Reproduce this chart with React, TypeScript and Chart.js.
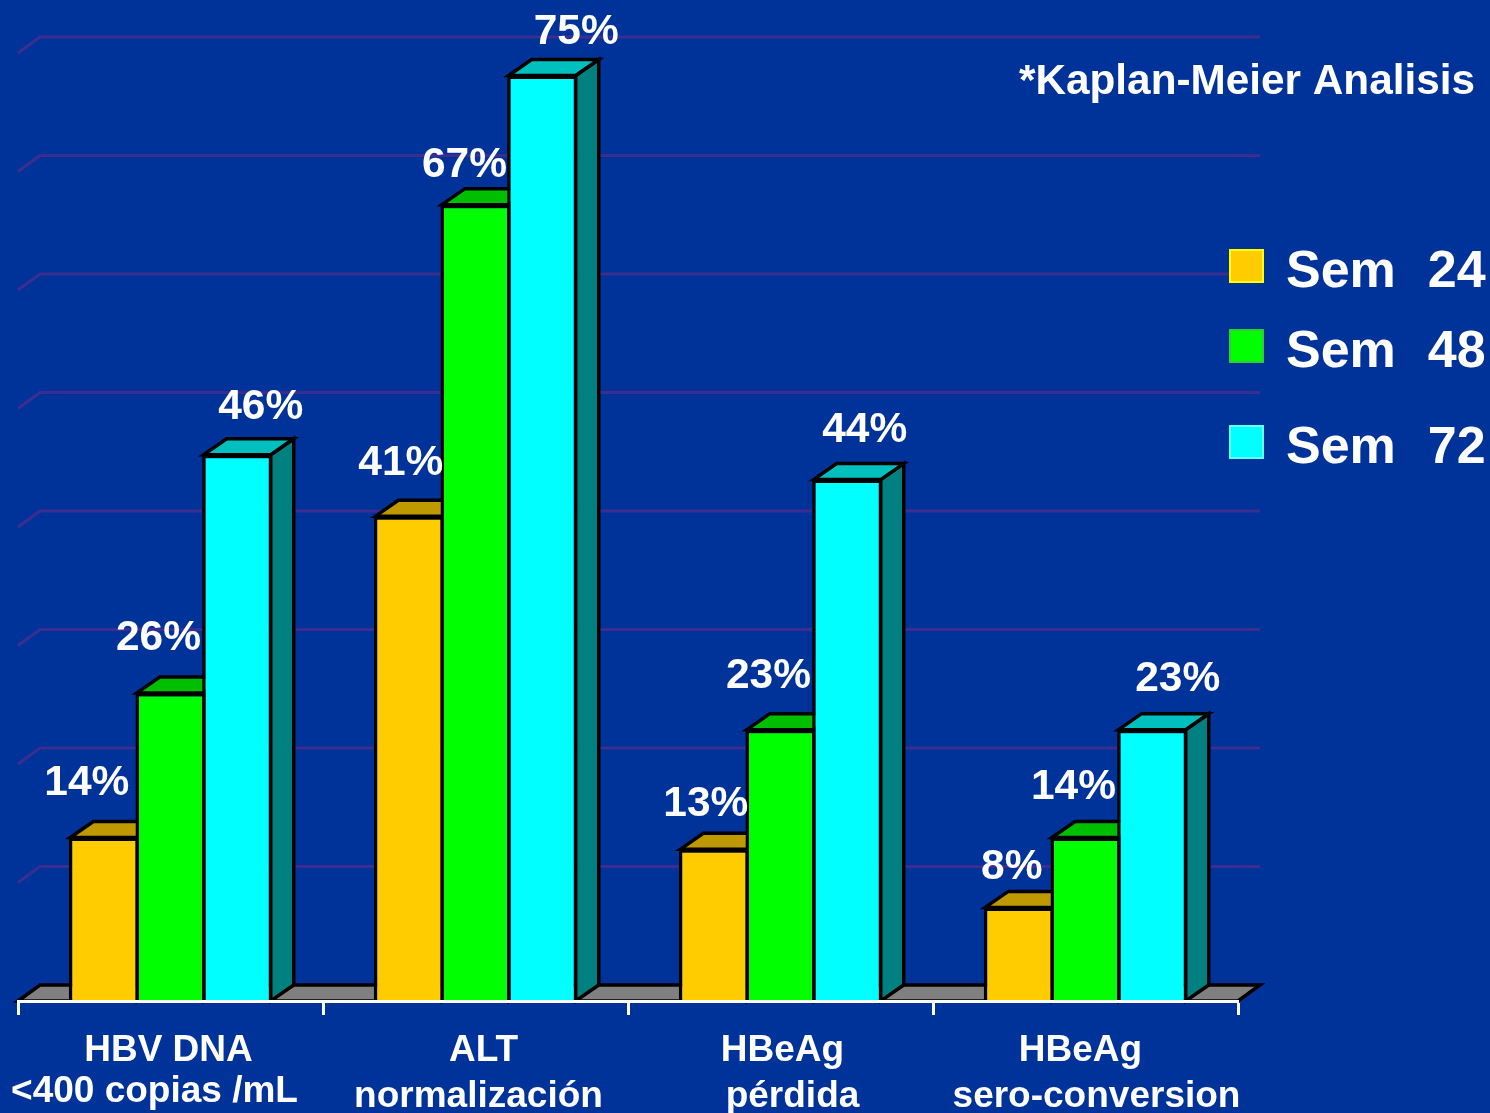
import React, { useEffect, useRef } from "react";
import { Chart, registerables } from "chart.js";

Chart.register(...registerables);

const categories = [
  ["HBV DNA", "<400 copias /mL"],
  ["ALT", "normalización"],
  ["HBeAg", "pérdida"],
  ["HBeAg", "sero-conversion"],
];
const sem24Heights = [13.8, 40.9, 12.8, 7.9];
const sem48Heights = [26, 67.2, 22.9, 13.8];
const sem72Heights = [46.1, 78.1, 44, 22.9];
const sem24Labels = ["14%", "41%", "13%", "8%"];
const sem48Labels = ["26%", "67%", "23%", "14%"];
const sem72Labels = ["46%", "75%", "44%", "23%"];
const seriesNames = ["Sem  24", "Sem  48", "Sem  72"];
const note = "*Kaplan-Meier Analisis";

const FONT = '"Liberation Sans", Arial, sans-serif';
const BG = "#003399";
const GRID = "#3B2E90";
const DX = 22;
const DY = 16;
const fronts = ["#FFCC00", "#00FF00", "#00FFFF"];
const tops = ["#BF9900", "#00BF00", "#00BFBF"];
const sides = ["#806600", "#008000", "#008080"];
const swatchBorders = ["#FFFF00", "#33CC33", "#66FFFF"];
const legendY = [249, 329, 425];
const labelOffsets = [
  [[-17, -42], [-8, -41], [-8, -33], [-7, -28]],
  [[-12, -43], [-11, -28], [-12, -42], [-12, -38]],
  [[23.5, -36], [34, -32], [17.5, -38], [25.5, -39]],
];
const tickOffsets = [
  [[-2, 1061], [-16, 1102]],
  [[8, 1061], [3, 1107]],
  [[2, 1061], [12, 1107]],
  [[-5, 1061], [11, 1107]],
];

function poly(ctx: CanvasRenderingContext2D, pts: number[][], fill: string | null, stroke = true) {
  ctx.beginPath();
  pts.forEach((p, i) => (i ? ctx.lineTo(p[0], p[1]) : ctx.moveTo(p[0], p[1])));
  ctx.closePath();
  if (fill) {
    ctx.fillStyle = fill;
    ctx.fill();
  }
  if (stroke) ctx.stroke();
}

const scene = {
  id: "scene",
  beforeDraw(chart: any) {
    const { ctx, width, height } = chart;
    ctx.save();
    ctx.fillStyle = BG;
    ctx.fillRect(0, 0, width, height);
    ctx.restore();
  },
  beforeDatasetsDraw(chart: any) {
    const { ctx, chartArea, scales } = chart;
    const y0 = scales.y.getPixelForValue(0);
    const { left, right } = chartArea;
    ctx.save();
    // back wall grid lines
    ctx.strokeStyle = GRID;
    ctx.lineWidth = 3;
    scales.y.ticks.forEach((t: any) => {
      if (t.value === 0) return;
      const p = scales.y.getPixelForValue(t.value);
      ctx.beginPath();
      ctx.moveTo(left, p);
      ctx.lineTo(left + DX, p - DY);
      ctx.lineTo(right + DX, p - DY);
      ctx.stroke();
    });
    // floor
    ctx.strokeStyle = "#000";
    ctx.lineWidth = 3.5;
    ctx.lineJoin = "miter";
    poly(ctx, [[left, y0], [left + DX, y0 - DY], [right + DX, y0 - DY], [right, y0]], "#808080");
    // 3D faces of bars
    const bx = DX + 1;
    chart.data.datasets.forEach((_: any, d: number) => {
      chart.getDatasetMeta(d).data.forEach((b: any) => {
        const r = b.x + b.width / 2 - 1.5;
        const l = b.x - b.width / 2 + 1.5;
        poly(ctx, [[r, b.y], [r + bx, b.y - DY], [r + bx, y0 - DY], [r, y0]], sides[d]);
        poly(ctx, [[l, b.y], [l + bx, b.y - DY], [r + bx, b.y - DY], [r, b.y]], tops[d]);
      });
    });
    ctx.restore();
  },
  afterDatasetsDraw(chart: any) {
    const { ctx, scales } = chart;
    ctx.save();
    ctx.fillStyle = "#FFFFFF";
    ctx.textBaseline = "alphabetic";
    ctx.textAlign = "center";
    // value labels
    ctx.font = `bold 42.5px ${FONT}`;
    const labels = [sem24Labels, sem48Labels, sem72Labels];
    chart.data.datasets.forEach((_: any, d: number) => {
      chart.getDatasetMeta(d).data.forEach((b: any, i: number) => {
        ctx.fillText(labels[d][i], b.x + labelOffsets[d][i][0], b.y + labelOffsets[d][i][1]);
      });
    });
    // category labels
    ctx.font = `bold 37px ${FONT}`;
    categories.forEach((lines, i) => {
      const c = scales.x.getPixelForValue(i);
      lines.forEach((line, j) => {
        ctx.fillText(line, c + tickOffsets[i][j][0], tickOffsets[i][j][1]);
      });
    });
    // note
    ctx.textAlign = "left";
    ctx.font = `bold 42.3px ${FONT}`;
    ctx.fillText(note, 1019, 94);
    // legend
    chart.data.datasets.forEach((ds: any, d: number) => {
      ctx.fillStyle = swatchBorders[d];
      ctx.fillRect(1229, legendY[d], 35, 34);
      ctx.fillStyle = fronts[d];
      ctx.fillRect(1231, legendY[d] + 2, 31, 30);
      ctx.fillStyle = "#FFFFFF";
      ctx.font = `bold 52px ${FONT}`;
      (ctx as any).wordSpacing = "1.5px";
      ctx.fillText(ds.label, 1286, legendY[d] + 38);
      (ctx as any).wordSpacing = "0px";
    });
    ctx.restore();
  },
};

export default function App() {
  const ref = useRef<HTMLCanvasElement>(null);
  useEffect(() => {
    document.body.style.margin = "0";
    document.body.style.background = BG;
    const chart = new Chart(ref.current!, {
      type: "bar",
      data: {
        labels: categories.map((c) => c.join(" ")),
        datasets: [sem24Heights, sem48Heights, sem72Heights].map((data, d) => ({
          label: seriesNames[d],
          data,
          backgroundColor: fronts[d],
          borderColor: "#000000",
          borderWidth: 3.5,
          categoryPercentage: 0.656,
          barPercentage: 1.05,
        })),
      },
      options: {
        responsive: false,
        animation: false,
        layout: { padding: { left: 0, right: 252, top: 53, bottom: 0 } },
        plugins: { legend: { display: false }, tooltip: { enabled: false }, title: { display: false } },
        scales: {
          x: {
            offset: true,
            afterFit: (s: any) => { s.height = 112; },
            ticks: { display: false },
            grid: {
              z: 1,
              offset: true,
              drawOnChartArea: false,
              drawTicks: true,
              tickLength: 14,
              tickColor: "#FFFFFF",
              tickWidth: 3,
              color: "#FFFFFF",
            },
            border: { z: 1, color: "#FFFFFF", width: 3 },
          },
          y: {
            min: 0,
            max: 80,
            afterFit: (s: any) => { s.width = 18; },
            ticks: { display: false, stepSize: 10 },
            grid: { display: false },
            border: { display: false },
          },
        },
      },
      plugins: [scene],
    } as any);
    return () => chart.destroy();
  }, []);
  return <canvas ref={ref} width={1490} height={1113} style={{ display: "block" }} />;
}
